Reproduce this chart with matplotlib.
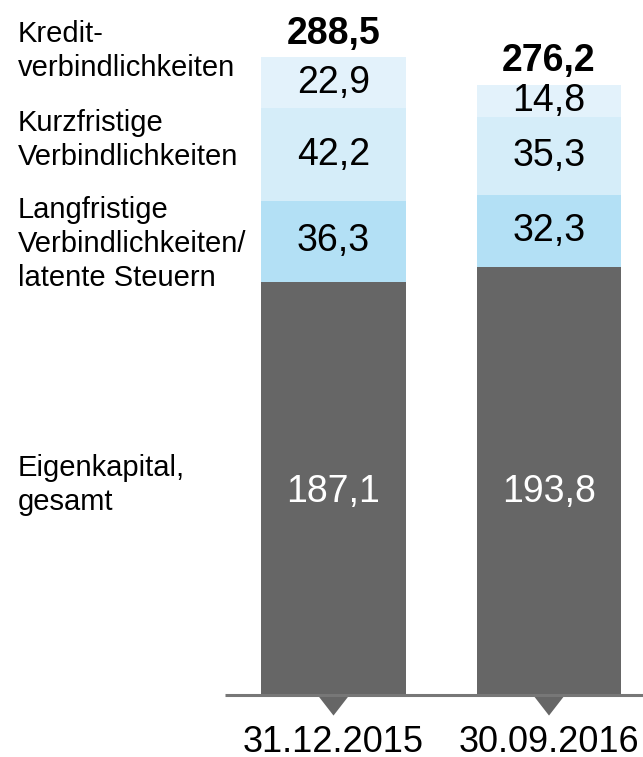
import matplotlib.pyplot as plt
from matplotlib.patches import Polygon

plt.rcParams['font.family'] = ['Liberation Sans', 'DejaVu Sans']

# data
dates = ["31.12.2015", "30.09.2016"]
eigenkapital = [187.1, 193.8]
langfristig = [36.3, 32.3]
kurzfristig = [42.2, 35.3]
kredit = [22.9, 14.8]
totals = ["288,5", "276,2"]

segments = [eigenkapital, langfristig, kurzfristig, kredit]
colors = ["#666666", "#b3e0f5", "#d5edf9", "#e3f2fb"]
text_colors = ["white", "black", "black", "black"]

fig = plt.figure(figsize=(6.43, 7.57), dpi=100)
ax = fig.add_axes([0, 0, 1, 1])
ax.set_xlim(-1.5476, 1.4362)
ax.set_ylim(-28.05, 314.5)
ax.axis("off")

x = [0, 1]
width = 0.67
bottom = [0, 0]
for i, (vals, col, tc) in enumerate(zip(segments, colors, text_colors)):
    ax.bar(x, vals, width=width, bottom=bottom, color=col, linewidth=0)
    for xi, v, b in zip(x, vals, bottom):
        # equity labels sit at the same height in both bars
        yy = min(eigenkapital) / 2 - 1.5 if i == 0 else b + v / 2
        ax.text(xi, yy, f"{v:.1f}".replace(".", ","), ha="center",
                va="center", fontsize=27, color=tc)
    bottom = [b + v for b, v in zip(bottom, vals)]

for xi, top, t in zip(x, bottom, totals):
    ax.annotate(t, (xi, top), xytext=(0, 4), textcoords="offset points",
                ha="center", va="bottom", fontsize=27, fontweight="bold")

# baseline with downward notches
ax.plot([-0.503, 1.4362], [0, 0], color="#777777", lw=2.2, solid_capstyle="butt")
for xi, d in zip(x, dates):
    ax.add_patch(Polygon([[xi - 0.07, -0.5], [xi + 0.07, -0.5], [xi, -9.3]],
                         closed=True, color="#666666", lw=0))
    ax.text(xi, -25.8, d, ha="center", va="baseline", fontsize=26)

# left labels
labels = [
    ("Kredit-\nverbindlichkeiten", 0.933),
    ("Kurzfristige\nVerbindlichkeiten", 0.815),
    ("Langfristige\nVerbindlichkeiten/\nlatente Steuern", 0.678),
    ("Eigenkapital,\ngesamt", 0.359),
]
for txt, yy in labels:
    fig.text(0.028, yy, txt, ha="left", va="center", fontsize=21,
             linespacing=1.28)

fig.savefig("out.png", dpi=100)
